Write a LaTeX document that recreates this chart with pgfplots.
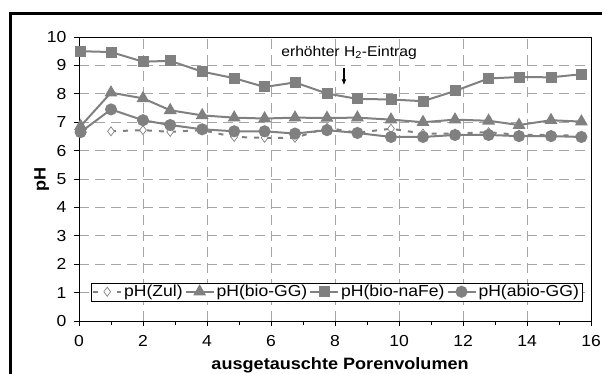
\documentclass[border=0pt]{standalone}
\usepackage{fontspec}
\setmainfont{Liberation Sans}[FakeStretch=1.1]
\usepackage{pgfplots}
\pgfplotsset{compat=1.18}
\usetikzlibrary{arrows.meta}
\definecolor{sgray}{RGB}{128,128,128}
\definecolor{gridgray}{RGB}{165,165,165}

\pgfplotstableread{
x     zul   biogg naFe  abiogg
0.05  nan   6.86  9.50  6.65
1.0   6.68  8.04  9.47  7.45
2.0   6.72  7.84  9.13  7.07
2.85  6.66  7.42  9.16  6.90
3.85  6.72  7.24  8.78  6.75
4.85  6.48  7.16  8.55  6.68
5.8   6.45  7.13  8.24  6.68
6.75  6.45  7.16  8.40  6.60
7.75  6.80  7.15  8.01  6.72
8.7   6.63  7.16  7.82  6.62
9.75  6.77  7.09  7.80  6.48
10.75 6.60  7.00  7.74  6.48
11.75 6.60  7.09  8.10  6.55
12.8  6.65  7.05  8.54  6.55
13.75 6.55  6.90  8.59  6.51
14.75 6.55  7.07  8.58  6.51
15.7  6.52  7.02  8.69  6.48
}\phdata

\begin{document}
\begin{tikzpicture}
\useasboundingbox (-79bp,-53bp) rectangle (523bp,321bp);
\draw[line width=3bp] (-68.5bp,-70bp) -- (-68.5bp,307.7bp) -- (540bp,307.7bp);
\begin{axis}[
    at={(0,0)}, anchor=south west,
    scale only axis,
    width=512bp, height=284bp,
    xmin=0, xmax=16, ymin=0, ymax=10,
    xtick={0,2,...,16}, minor xtick={1,3,...,15},
    ytick={0,1,...,10},
    tick align=outside, tick pos=left,
    major tick length=5bp, minor tick length=4bp,
    grid=major,
    major grid style={gridgray, dash pattern=on 10bp off 6bp, line width=0.8bp},
    axis line style={black, line width=0.8bp},
    tick style={black, line width=0.8bp},
    ticklabel style={font=\fontsize{16}{18}\selectfont},
    xticklabel style={yshift=-6bp},
    yticklabel style={xshift=-4bp},
    /pgf/number format/assume math mode=true,
    xlabel={ausgetauschte Porenvolumen},
    ylabel={pH},
    label style={font=\bfseries\fontsize{16.5}{19}\selectfont},
    xlabel style={at={(axis description cs:0.51,-0.155)}, anchor=center},
    ylabel style={at={(axis description cs:-0.073,0.5)}, anchor=center},
    legend style={at={(rel axis cs:0.503,0.103)}, anchor=center,
      legend columns=-1, draw=black, font=\fontsize{16}{18}\selectfont,
      inner xsep=1bp, inner ysep=0.5bp,
      /tikz/every even column/.append style={column sep=0bp}},
    legend image code/.code={\draw[mark repeat=2,mark phase=2]
      plot coordinates {(0bp,0bp) (14bp,0bp) (28bp,0bp)};},
    clip=false,
    unbounded coords=jump,
]
\addplot[sgray, line width=2bp, dash pattern=on 5bp off 7bp,
  mark=diamond*, mark size=4.5bp,
  mark options={solid, fill=white, draw=sgray, line width=0.7bp}]
  table[x=x, y=zul] {\phdata};
\addplot[sgray, line width=2bp, mark=triangle*, mark size=5.5bp,
  mark options={solid, fill=sgray}]
  table[x=x, y=biogg] {\phdata};
\addplot[sgray, line width=2bp, mark=square*, mark size=4.5bp,
  mark options={solid, fill=sgray}]
  table[x=x, y=naFe] {\phdata};
\addplot[sgray, line width=2bp, mark=*, mark size=5bp,
  mark options={solid, fill=sgray}]
  table[x=x, y=abiogg] {\phdata};
\legend{pH(Zul), pH(bio-GG), pH(bio-naFe), pH(abio-GG)}
\node[font=\fontsize{14.3}{16}\selectfont] at (axis cs:8.44,9.44)
  {erhöhter H\textsubscript{2}-Eintrag};
\draw[-{Latex[length=6bp,width=5bp]}, line width=1.3bp]
  (axis cs:8.28,8.92) -- (axis cs:8.28,8.3);
\end{axis}
\end{tikzpicture}
\end{document}
